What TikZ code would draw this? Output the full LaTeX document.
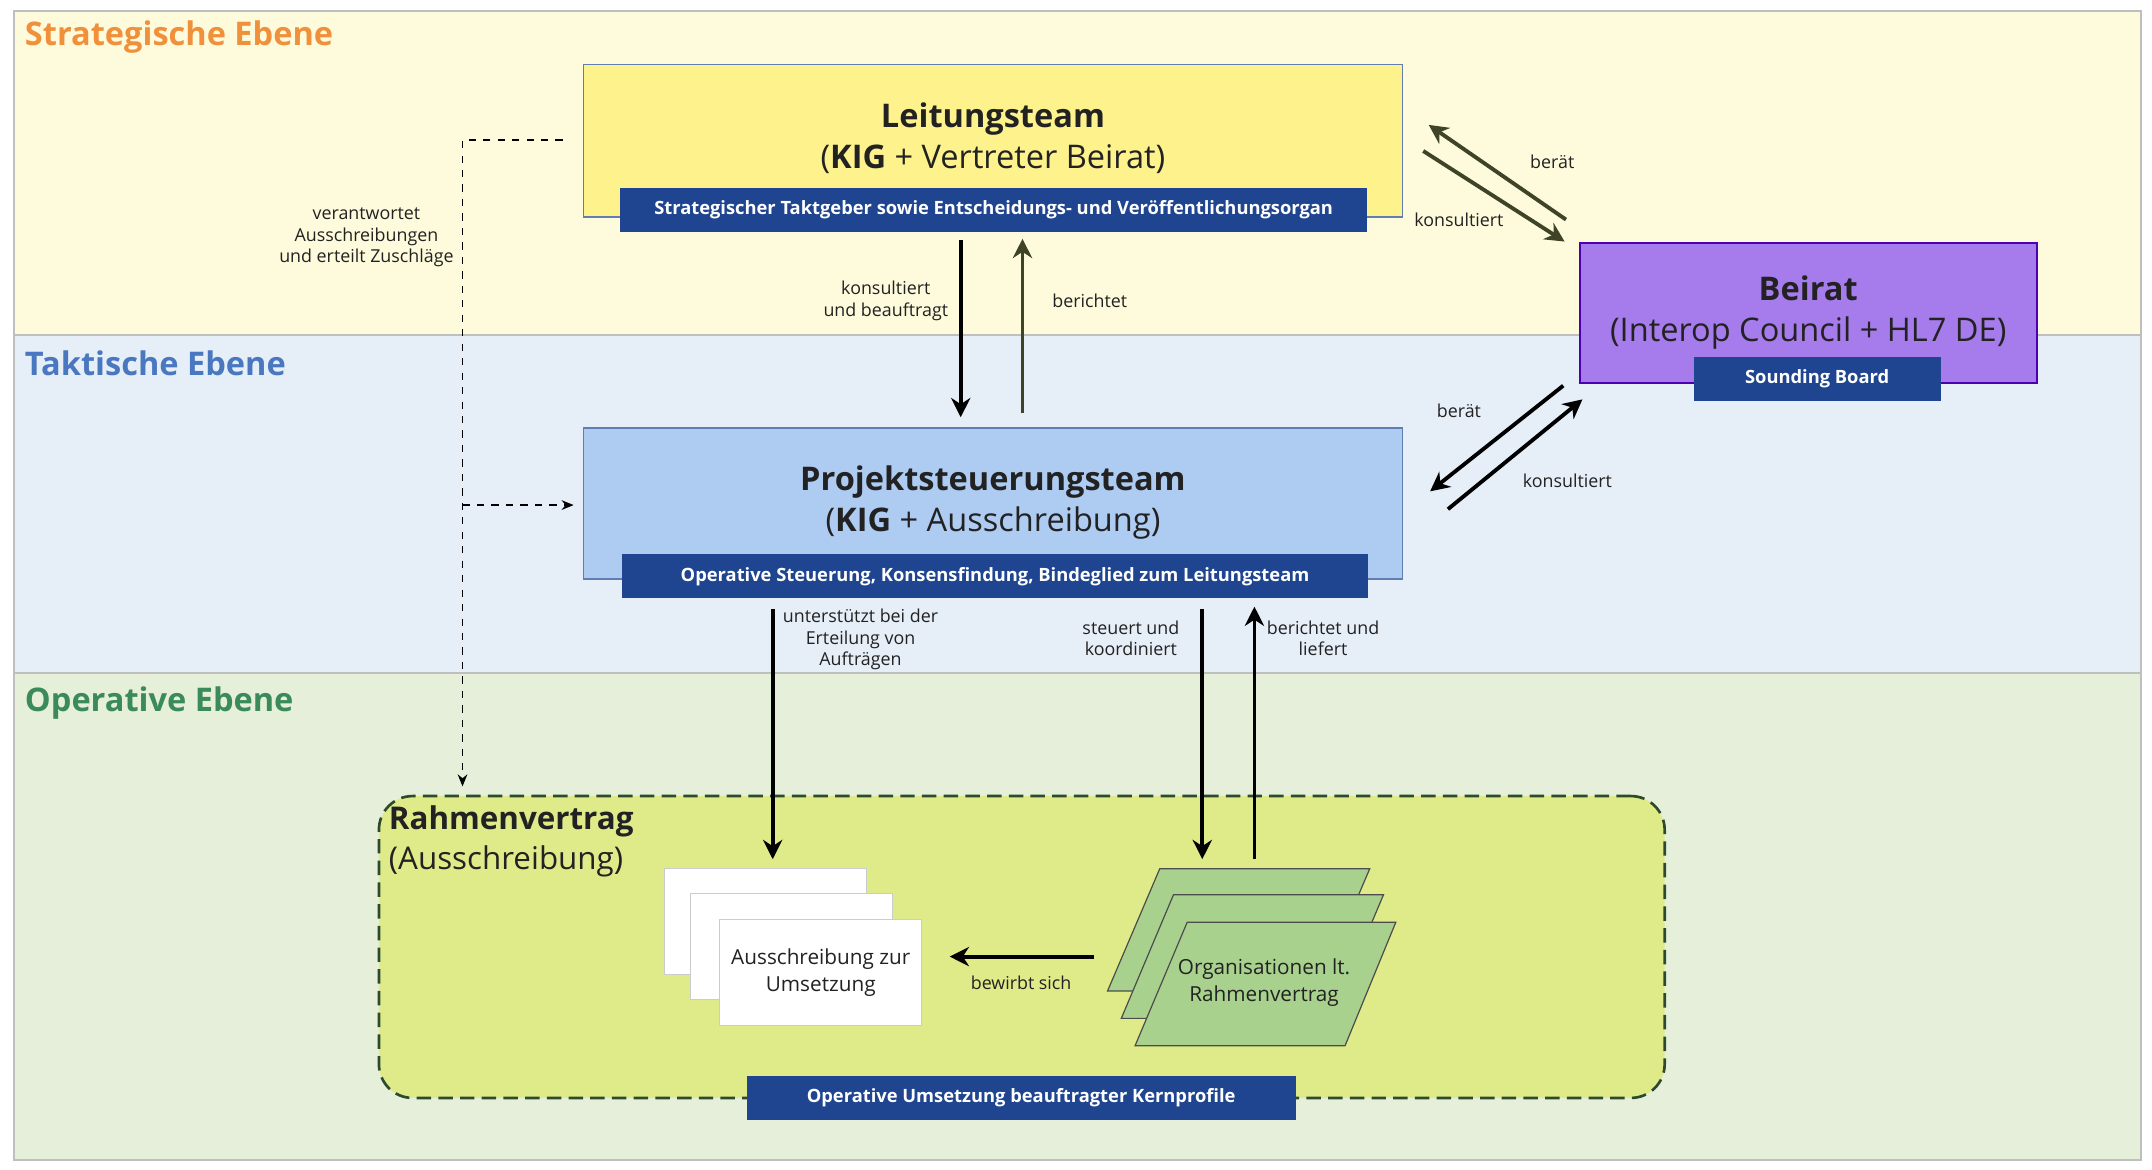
\documentclass[tikz,border=0pt]{standalone}
\usepackage{fontspec}
\setmainfont{Open Sans}
\usetikzlibrary{arrows.meta}
\definecolor{bandS}{HTML}{FEFBDC}\definecolor{bandT}{HTML}{E6EEF8}\definecolor{bandO}{HTML}{E5EFD9}
\definecolor{cS}{HTML}{F0903A}\definecolor{cT}{HTML}{4A78C0}\definecolor{cO}{HTML}{3A8A5A}
\definecolor{navy}{HTML}{1F4590}\definecolor{yel}{HTML}{FEF28C}\definecolor{purp}{HTML}{A67BEB}
\definecolor{lblue}{HTML}{AECBF2}\definecolor{lime}{HTML}{DFEB88}\definecolor{pgreen}{HTML}{A9D18E}
\definecolor{olive}{HTML}{3F4428}\definecolor{dgreen}{HTML}{2E4A2E}\definecolor{txt}{HTML}{222222}
\tikzset{
 band/.style={draw=gray!50,line width=0.8pt,minimum width=31cm,anchor=center},
 bandlbl/.style={anchor=west,font=\fontsize{13.5}{16}\selectfont\bfseries},
 mainbox/.style={draw=#1,line width=0.7pt,minimum width=11.94cm,minimum height=2.2cm},
 title/.style={align=center,text=txt,font=\fontsize{13.5}{17}\selectfont},
 banner/.style={fill=navy,text=white,minimum height=0.64cm,font=\fontsize{7.6}{9}\selectfont\bfseries,inner sep=0pt},
 lbl/.style={align=center,text=txt,font=\fontsize{7.4}{9}\selectfont},
 arr/.style={line width=1.6pt,-{Stealth[length=8pt,width=8pt]}},
 doc/.style={draw=gray!40,fill=white,minimum width=2.94cm,minimum height=1.54cm},
 org/.style={draw=gray!60!black,fill=pgreen,line width=0.5pt}
}
\begin{document}
\begin{tikzpicture}[x=0.02cm,y=-0.02cm]
\useasboundingbox (0,0) rectangle (1568,852);
\fill[white] (0,0) rectangle (1568,852);
\node[band,fill=bandS,minimum height=4.72cm] (bs) at (785,126) {};
\node[band,fill=bandT,minimum height=4.92cm] (bt) at (785,367) {};
\node[band,fill=bandO,minimum height=7.1cm] (bo) at (785,667.5) {};
\node[bandlbl,text=cS] (ls) at (12,27) {Strategische Ebene};
\node[bandlbl,text=cT] (lt) at (12,265) {Taktische Ebene};
\node[bandlbl,text=cO] (lo) at (12,512) {Operative Ebene};

% Leitungsteam
\node[mainbox=navy!70,fill=yel,minimum height=2.22cm] (leit) at (723.5,102.5) {};
\node[title] (leitt) at (723.5,101) {\textbf{Leitungsteam}\\(\textbf{KIG} + Vertreter Beirat)};
\node[banner,minimum width=10.88cm] (leitb) at (724,153) {Strategischer Taktgeber sowie Entscheidungs- und Veröffentlichungsorgan};

% Beirat
\node[draw=blue!60!purple,line width=0.7pt,fill=purp,minimum width=6.66cm,minimum height=2.04cm] (beir) at (1317.5,228) {};
\node[title] (beirt) at (1317.5,228) {\textbf{Beirat}\\(Interop Council + HL7 DE)};
\node[banner,minimum width=3.6cm] (beirb) at (1324,276) {Sounding Board};

% Projekt
\node[mainbox=navy!70,fill=lblue] (proj) at (723.5,367) {};
\node[title] (projt) at (723.5,366) {\textbf{Projektsteuerungsteam}\\(\textbf{KIG} + Ausschreibung)};
\node[banner,minimum width=10.88cm] (projb) at (725,420) {Operative Steuerung, Konsensfindung, Bindeglied zum Leitungsteam};

% Rahmenvertrag
\node[draw=dgreen,dashed,dash pattern=on 6pt off 3pt,line width=1.1pt,fill=lime,rounded corners=14pt,minimum width=18.74cm,minimum height=4.4cm] (rahm) at (744.5,690) {};
\node[anchor=north west,align=left,text=txt,font=\fontsize{13}{16.5}\selectfont,inner sep=0pt] (rahmt) at (283,587) {\textbf{Rahmenvertrag}\\(Ausschreibung)};
\node[banner,minimum width=8cm] (rahmb) at (744,800) {Operative Umsetzung beauftragter Kernprofile};

% documents
\node[doc] (d1) at (557.5,671.5) {};
\node[doc] (d2) at (576.5,689.5) {};
\node[doc,align=center,text=txt,font=\fontsize{8.6}{11}\selectfont] (d3) at (598,708.5) {Ausschreibung zur\\Umsetzung};

% organisations
\draw[org] (845,633) -- (998,633) -- (960,722) -- (807,722) -- cycle;
\draw[org] (855,652) -- (1008,652) -- (970,742) -- (817,742) -- cycle;
\draw[org] (865,672) -- (1017,672) -- (980,762) -- (827,762) -- cycle;
\node[align=center,text=txt,font=\fontsize{8.6}{11}\selectfont] (orgt) at (921,716) {Organisationen lt.\\Rahmenvertrag};

% coordinates for connectors
\coordinate (a1s) at (700,175); \coordinate (a1e) at (700,304);
\coordinate (a2s) at (745,301); \coordinate (a2e) at (745,174);
\coordinate (b1s) at (1037,110); \coordinate (b1e) at (1140,176);
\coordinate (b2s) at (1141,160); \coordinate (b2e) at (1041,91);
\coordinate (c1s) at (1139,281); \coordinate (c1e) at (1042,358);
\coordinate (c2s) at (1055,371); \coordinate (c2e) at (1153,291);
\coordinate (p1s) at (563,444); \coordinate (p1e) at (563,626);
\coordinate (p2s) at (876,444); \coordinate (p2e) at (876,626);
\coordinate (p3s) at (914,626); \coordinate (p3e) at (914,442);
\coordinate (os) at (797,697); \coordinate (oe) at (692,697);
\coordinate (ds) at (410,102); \coordinate (dc) at (337,102);
\coordinate (db) at (337,368); \coordinate (de) at (337,573); \coordinate (dp) at (418,368);

\draw[arr,black] (a1s) -- (a1e);
\draw[arr,olive] (a2s) -- (a2e);
\draw[arr,olive] (b1s) -- (b1e);
\draw[arr,olive] (b2s) -- (b2e);
\draw[arr,black] (c1s) -- (c1e);
\draw[arr,black] (c2s) -- (c2e);
\draw[arr,black] (p1s) -- (p1e);
\draw[arr,black] (p2s) -- (p2e);
\draw[arr,black] (p3s) -- (p3e);
\draw[arr,black] (os) -- (oe);
\draw[black,line width=0.8pt,dashed,-{Stealth[length=5pt,width=4pt]}] (ds) -- (dc) -- (de);
\draw[black,line width=0.8pt,dashed,-{Stealth[length=5pt,width=4pt]}] (db) -- (dp);

\node[lbl,anchor=east] (l1) at (697,219) {konsultiert\\und beauftragt};
\node[lbl] (l2) at (794,219) {berichtet};
\node[lbl] (l3) at (1131,118) {berät};
\node[lbl] (l4) at (1063,160) {konsultiert};
\node[lbl] (l5) at (1063,299) {berät};
\node[lbl] (l6) at (1142,350) {konsultiert};
\node[lbl] (l7) at (627,466) {unterstützt bei der\\Erteilung von\\Aufträgen};
\node[lbl] (l8) at (824,465) {steuert und\\koordiniert};
\node[lbl] (l9) at (964,465) {berichtet und\\liefert};
\node[lbl] (l10) at (744,716) {bewirbt sich};
\node[lbl] (l11) at (267,173) {verantwortet\\Ausschreibungen\\und erteilt Zuschläge};
\end{tikzpicture}
\end{document}
